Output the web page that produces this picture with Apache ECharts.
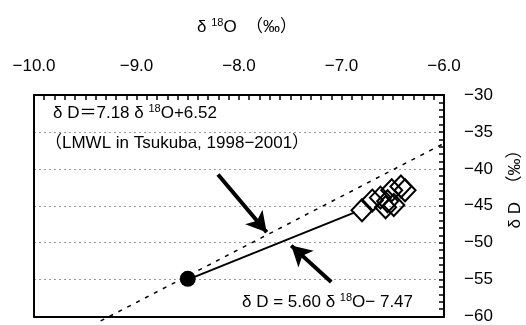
<!DOCTYPE html>
<html>
<head>
<meta charset="utf-8">
<script src="https://cdn.jsdelivr.net/npm/echarts@6/dist/echarts.min.js"></script>
<style>
  html, body { margin: 0; padding: 0; background: #fff; }
  #chart { width: 526px; height: 325px; }
</style>
</head>
<body>
<div id="chart"></div>
<script>
// LMWL (dashed) end points
const lmwlX = [-9.35, -5.84];
const lmwlY = [-60.6, -35.4];
// fitted line (solid) end points
const fitX = [-8.5, -6.87];
const fitY = [-55.0, -45.9];
// filled circle
const rainX = [-8.5];
const rainY = [-54.9];
// open diamonds
const sampleX = [-6.80, -6.70, -6.62, -6.57, -6.55, -6.49, -6.51, -6.42, -6.38];
const sampleY = [-45.6, -44.3, -43.9, -45.2, -44.4, -44.9, -42.9, -42.4, -42.9];
// arrows [from, to]
const arrowLmwl = [[-8.205, -40.76], [-7.73, -48.6]];
const arrowFit = [[-7.10, -55.33], [-7.49, -50.4]];
// dotted guide levels
const gridLevels = [-35, -40, -45, -50, -55];

const FONT = '"Liberation Sans", "Noto Sans CJK JP", sans-serif';

function pairs(xs, ys) {
  return xs.map((x, i) => [x, ys[i]]);
}
function minus(s) {
  return s.replace('-', '\u2212');
}

const chart = echarts.init(document.getElementById('chart'));

const richBase = {
  n: { fontSize: 17, fontFamily: FONT, color: '#000', lineHeight: 20 },
  s: { fontSize: 11, fontFamily: FONT, color: '#000', lineHeight: 12, verticalAlign: 'top' }
};
const tickStyle = { color: '#000', width: 1.5 };
const border = { show: true, onZero: false, lineStyle: { color: '#000', width: 2 } };

chart.setOption({
  animation: false,
  grid: { left: 34, right: 82, top: 95, bottom: 7 },
  xAxis: [
    {
      type: 'value', position: 'top', min: -10, max: -6, interval: 1,
      axisLine: border,
      axisTick: { show: true, inside: false, length: -5, lineStyle: tickStyle },
      minorTick: { show: true, splitNumber: 10, length: -5, lineStyle: tickStyle },
      axisLabel: {
        margin: 20, color: '#000', fontSize: 17, fontFamily: FONT,
        formatter: v => minus(v.toFixed(1))
      },
      splitLine: { show: false }
    },
    {
      type: 'value', position: 'bottom', min: -10, max: -6, interval: 1,
      axisLine: border, axisTick: { show: false }, axisLabel: { show: false },
      splitLine: { show: false }
    }
  ],
  yAxis: [
    {
      type: 'value', position: 'right', min: -60, max: -30, interval: 5,
      axisLine: border,
      axisTick: { show: true, inside: false, length: -5, lineStyle: tickStyle },
      minorTick: { show: true, splitNumber: 5, length: -5, lineStyle: tickStyle },
      axisLabel: {
        margin: 20, color: '#000', fontSize: 17, fontFamily: FONT,
        formatter: v => minus(String(v))
      },
      splitLine: { show: false }
    },
    {
      type: 'value', position: 'left', min: -60, max: -30, interval: 5,
      axisLine: border, axisTick: { show: false }, axisLabel: { show: false },
      splitLine: { show: false }
    }
  ],
  graphic: [
    {
      type: 'text', x: 247, y: 27,
      style: {
        text: '{n|δ }{s|18}{n|O  （‰）}', rich: richBase,
        align: 'center', verticalAlign: 'middle'
      }
    },
    {
      type: 'text', x: 515, y: 185, rotation: Math.PI / 2,
      style: {
        text: '{n|δ D  （‰）}', rich: richBase,
        align: 'center', verticalAlign: 'middle'
      }
    },
    {
      type: 'text', x: 53, y: 113,
      style: {
        text: '{n|δ D＝7.18 δ }{s|18}{n|O+6.52}', rich: richBase,
        align: 'left', verticalAlign: 'middle'
      }
    },
    {
      type: 'text', x: 45, y: 143,
      style: {
        text: '{n|（LMWL in Tsukuba, 1998\u22122001）}', rich: richBase,
        align: 'left', verticalAlign: 'middle'
      }
    },
    {
      type: 'text', x: 242, y: 302,
      style: {
        text: '{n|δ D = 5.60 δ }{s|18}{n|O\u2212 7.47}', rich: richBase,
        align: 'left', verticalAlign: 'middle'
      }
    }
  ],
  series: [
    {
      name: 'guides', type: 'line', data: [], silent: true, z: 0,
      markLine: {
        silent: true, symbol: 'none', label: { show: false }, z: 0,
        lineStyle: { color: '#999', type: [2, 3], width: 1, opacity: 1 },
        data: gridLevels.map(v => ({ yAxis: v }))
      }
    },
    {
      name: 'LMWL', type: 'line', data: pairs(lmwlX, lmwlY), z: 3,
      clip: false, symbol: 'none', silent: true,
      lineStyle: { color: '#000', width: 1.5, type: [4, 6] },
      markLine: {
        silent: true, symbol: ['none', 'arrow'], symbolSize: [17, 20], z: 6,
        label: { show: false },
        lineStyle: { color: '#000', width: 4, type: 'solid', opacity: 1 },
        data: [
          [{ coord: arrowLmwl[0] }, { coord: arrowLmwl[1] }],
          [{ coord: arrowFit[0] }, { coord: arrowFit[1] }]
        ]
      }
    },
    {
      name: 'fit', type: 'line', data: pairs(fitX, fitY), z: 4,
      symbol: 'none', silent: true,
      lineStyle: { color: '#000', width: 2 }
    },
    {
      name: 'samples', type: 'scatter', data: pairs(sampleX, sampleY), z: 8,
      symbol: 'diamond', symbolSize: [21, 22], silent: true,
      itemStyle: { color: 'rgba(0,0,0,0)', borderColor: '#000', borderWidth: 2, opacity: 1 }
    },
    {
      name: 'rain', type: 'scatter', data: pairs(rainX, rainY), z: 8,
      symbol: 'circle', symbolSize: 16, silent: true,
      itemStyle: { color: '#000', opacity: 1 }
    }
  ]
});
</script>
</body>
</html>
